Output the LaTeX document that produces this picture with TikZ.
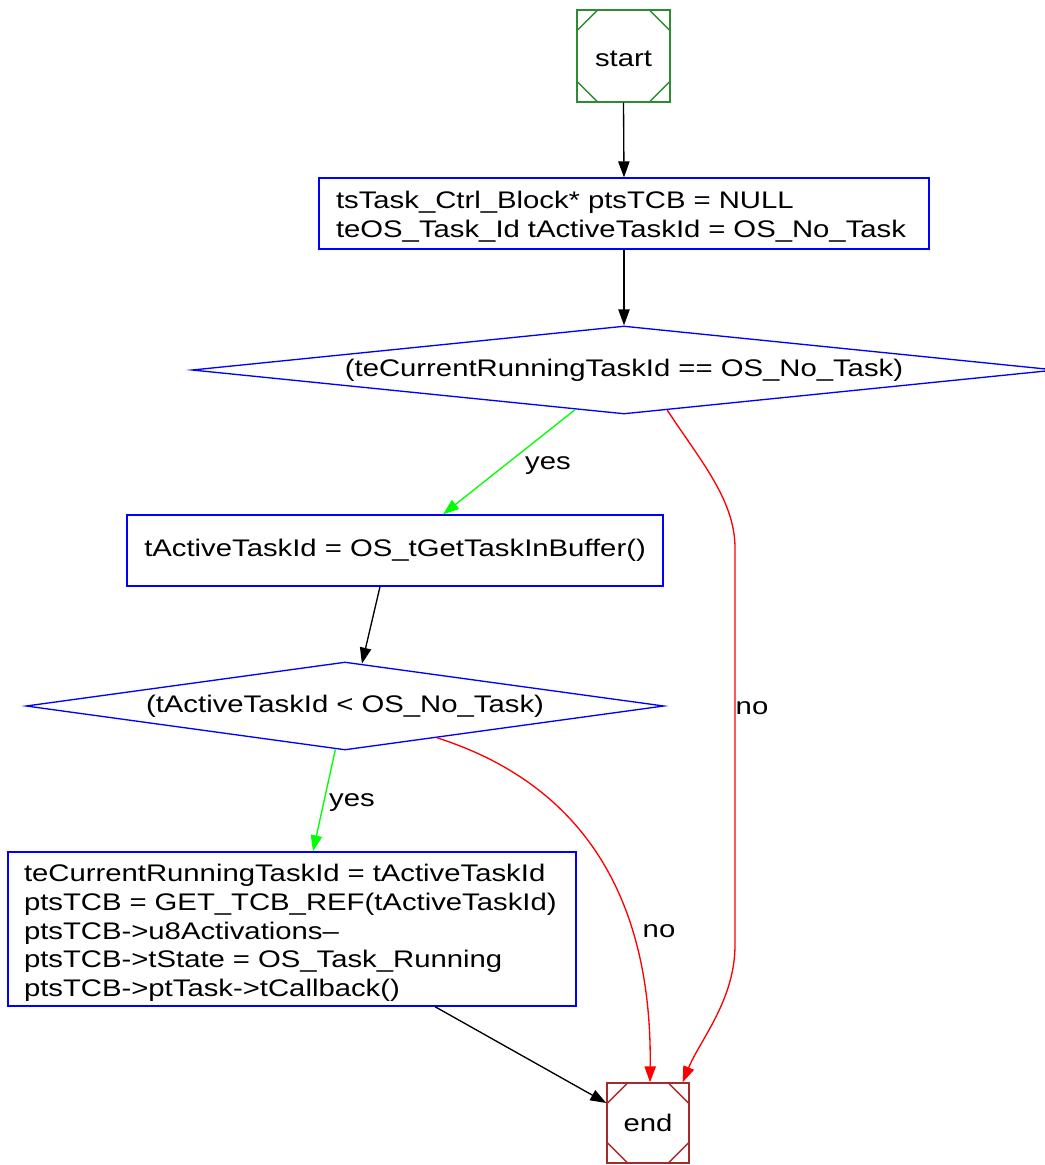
\documentclass[tikz,border=0pt]{standalone}
\usepackage{fontspec}
\setmainfont{Liberation Sans}[FakeStretch=1.22]
\usetikzlibrary{shapes.geometric,arrows.meta,calc}
\definecolor{startgreen}{HTML}{2E8B2E}
\definecolor{endbrown}{HTML}{A52A2A}
\definecolor{edgegreen}{HTML}{00FF00}
\definecolor{edgered}{HTML}{FF0000}
\newcommand\mycorners[2]{%
  \draw[#2] ($(#1.north west)+(0,22)$) -- ($(#1.north west)+(22,0)$);
  \draw[#2] ($(#1.north east)+(0,22)$) -- ($(#1.north east)+(-22,0)$);
  \draw[#2] ($(#1.south west)+(0,-22)$) -- ($(#1.south west)+(22,0)$);
  \draw[#2] ($(#1.south east)+(0,-22)$) -- ($(#1.south east)+(-22,0)$);
}
\begin{document}
\begin{tikzpicture}[x=0.75pt,y=-0.75pt,
  every node/.style={font=\fontsize{18pt}{21.6pt}\selectfont},
  procbox/.style={draw=blue,line width=1pt,rectangle,inner sep=0pt},
  decbox/.style={draw=blue,line width=1pt,diamond,inner sep=0pt,aspect=9.8},
  msq/.style={rectangle,line width=1pt,inner sep=0pt},
  arr/.style={line width=1pt,-{Triangle[length=12pt,width=8.5pt]}},
  lbl/.style={inner sep=0pt}]
\useasboundingbox (0,0) rectangle (1045,1165);
\clip (0,0) rectangle (1045,1165);
% nodes
\node[msq,draw=startgreen,minimum width=69.75pt,minimum height=69pt] (s) at (623.5,56) {\rule{0pt}{16pt}start};
\mycorners{s}{startgreen,line width=1pt}
\node[procbox,minimum width=457.5pt,minimum height=53.25pt,text width=432pt,align=left] (b1) at (624,213.5)
  {\rule{0pt}{17.7pt}tsTask\_Ctrl\_Block* ptsTCB = NULL\\teOS\_Task\_Id tActiveTaskId = OS\_No\_Task};
\node[decbox,minimum width=648pt,minimum height=66pt] (d1) at (624,370) {(teCurrentRunningTaskId == OS\_No\_Task)};
\node[procbox,minimum width=402pt,minimum height=53.25pt] (b2) at (395,550.5) {tActiveTaskId = OS\_tGetTaskInBuffer()};
\node[decbox,minimum width=478.5pt,minimum height=66pt] (d2) at (345,706) {(tActiveTaskId < OS\_No\_Task)};
\node[procbox,minimum width=426pt,minimum height=115.5pt,text width=402pt,align=left] (b3) at (292,929)
  {\rule{0pt}{19pt}teCurrentRunningTaskId = tActiveTaskId\\ptsTCB = GET\_TCB\_REF(tActiveTaskId)\\ptsTCB->u8Activations–\\ptsTCB->tState = OS\_Task\_Running\\ptsTCB->ptTask->tCallback()};
\node[msq,draw=endbrown,minimum width=61.5pt,minimum height=60pt] (e) at (648,1123) {end};
\mycorners{e}{endbrown,line width=1pt}
% edges
\draw[arr] (s.south) -- (b1.north);
\draw[arr] (b1.south) -- (d1.north);
\draw[arr,edgegreen] ($(d1.south)!0.113!(d1.west)$) -- ([xshift=36pt]b2.north);
\node[lbl] (l1) at (548,466) {yes};
\draw[arr,edgered] ($(d1.south)!0.1!(d1.east)$) .. controls (700,460) and (735,500) .. (735,548)
  -- (735,945) .. controls (735,1000) and (700,1040) .. ([xshift=26pt]e.north);
\node[lbl] (l2) at (752,708) {no};
\draw[arr] ([xshift=-11.25pt]b2.south) -- ($(d2.north)!0.053!(d2.east)$);
\draw[arr,edgegreen] ($(d2.south)!0.03!(d2.west)$) -- ([xshift=15.75pt]b3.north);
\node[lbl] (l3) at (352,803) {yes};
\draw[arr,edgered] ($(d2.south)!0.288!(d2.east)$) .. controls (600,790) and (652,920) .. ([xshift=1.5pt]e.north);
\node[lbl] (l4) at (659,931) {no};
\draw[arr] ([xshift=107.25pt]b3.south) -- ([yshift=15pt]e.west);
\end{tikzpicture}
\end{document}
